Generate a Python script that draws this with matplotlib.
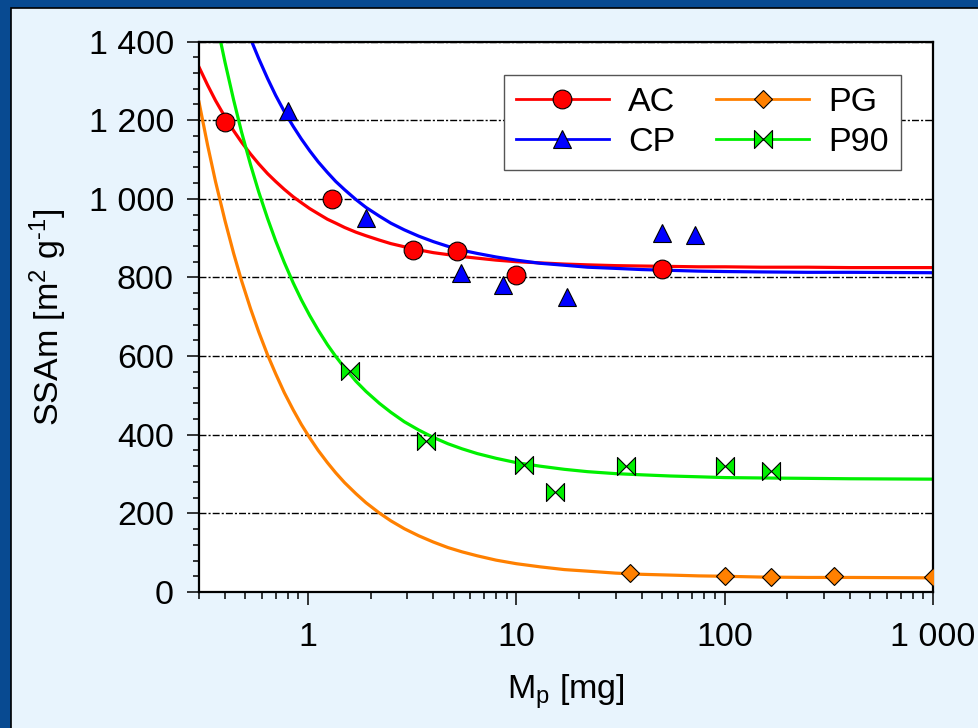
import matplotlib
matplotlib.use("Agg")
import matplotlib.pyplot as plt
from matplotlib.lines import Line2D
from matplotlib.path import Path
from matplotlib.patches import Rectangle
from matplotlib.ticker import MultipleLocator, FuncFormatter, LogLocator

plt.rcParams['font.family'] = ['Liberation Sans', 'DejaVu Sans']
plt.rcParams['mathtext.fontset'] = 'custom'
plt.rcParams['mathtext.rm'] = 'Liberation Sans'
plt.rcParams['mathtext.it'] = 'Liberation Sans:italic'

FS = 24.5

# measured points
ac_x = [0.4, 1.3, 3.2, 5.2, 10, 50]
ac_y = [1195, 1000, 870, 867, 807, 822]
cp_x = [0.8, 1.9, 5.4, 8.6, 17.6, 50, 72]
cp_y = [1223, 950, 810, 782, 751, 912, 907]
pg_x = [35, 100, 167, 334, 1000]
pg_y = [49, 40, 38, 40, 37]
p90_x = [1.6, 3.7, 10.9, 15.3, 33.7, 100, 167]
p90_y = [562, 384, 323, 255, 320, 320, 307]

# fitted curves
ac_fit_x = [0.3, 0.33, 0.36, 0.4, 0.44, 0.48, 0.53, 0.58, 0.64, 0.7, 0.77, 0.85, 0.93, 1.02, 1.12,
            1.24, 1.36, 1.5, 1.7, 1.9, 2.2, 2.5, 2.9, 3.4, 4, 4.7, 5.5, 6.5, 8, 10, 13, 17, 22,
            30, 40, 55, 75, 100, 150, 250, 400, 1000]
ac_fit_y = [1335, 1289, 1250, 1208, 1173, 1144, 1114, 1089, 1064, 1044, 1024, 1005, 990, 975, 962,
            948, 938, 927, 915, 906, 895, 886, 878, 870, 863, 858, 853, 849, 844, 840, 837, 834, 832,
            830, 829, 828, 827, 827, 826, 826, 825, 825]
cp_fit_x = [0.537, 0.58, 0.64, 0.7, 0.77, 0.85, 0.93, 1.02, 1.12, 1.24, 1.36, 1.5, 1.7, 1.9, 2.2,
            2.5, 2.9, 3.4, 4, 4.7, 5.5, 6.5, 8, 10, 13, 17, 22, 30, 40, 55, 75, 100, 150, 250, 400, 1000]
cp_fit_y = [1400, 1357, 1306, 1263, 1222, 1184, 1152, 1122, 1094, 1067, 1044, 1023, 998, 978, 956,
            938, 921, 905, 891, 879, 869, 861, 852, 844, 836, 831, 826, 823, 820, 818, 816, 815, 814,
            813, 813, 812]
p90_fit_x = [0.381, 0.4, 0.44, 0.48, 0.53, 0.58, 0.64, 0.7, 0.77, 0.85, 0.93, 1.02, 1.12, 1.24, 1.36,
             1.5, 1.7, 1.9, 2.2, 2.5, 2.9, 3.4, 4, 4.7, 5.5, 6.5, 8, 10, 13, 17, 22, 30, 40, 55, 75,
             100, 150, 250, 400, 1000]
p90_fit_y = [1400, 1347, 1251, 1170, 1087, 1018, 950, 893, 838, 786, 743, 703, 666, 629, 599,
             570, 536, 510, 480, 457, 433, 412, 393, 377, 364, 352, 340, 329, 320, 312, 306, 301, 298,
             295, 293, 291, 290, 289, 288, 287]
pg_fit_x = [0.3, 0.33, 0.36, 0.4, 0.44, 0.48, 0.53, 0.58, 0.64, 0.7, 0.77, 0.85, 0.93, 1.02, 1.12,
            1.24, 1.36, 1.5, 1.7, 1.9, 2.2, 2.5, 2.9, 3.4, 4, 4.7, 5.5, 6.5, 8, 10, 13, 17, 22,
            30, 40, 55, 75, 100, 150, 250, 400, 1000]
pg_fit_y = [1246, 1136, 1044, 944, 861, 792, 721, 662, 603, 555, 507, 463, 426, 392, 360,
            329, 303, 278, 250, 227, 201, 181, 161, 143, 127, 113, 102, 92, 81, 72, 64, 57, 53,
            48, 45, 43, 41, 40, 38, 37, 37, 36]

# bowtie marker for P90
bowtie = Path([(-1, 1), (0, 0), (-1, -1), (-1, 1), (1, 1), (0, 0), (1, -1), (1, 1)],
              [Path.MOVETO, Path.LINETO, Path.LINETO, Path.CLOSEPOLY,
               Path.MOVETO, Path.LINETO, Path.LINETO, Path.CLOSEPOLY])

series = [
    ("AC", ac_x, ac_y, ac_fit_x, ac_fit_y, '#ff0000', 'o', 13.5),
    ("CP", cp_x, cp_y, cp_fit_x, cp_fit_y, '#0000ff', '^', 12.5),
    ("PG", pg_x, pg_y, pg_fit_x, pg_fit_y, '#ff8000', 'D', 9.5),
    ("P90", p90_x, p90_y, p90_fit_x, p90_fit_y, '#00f000', bowtie, 13),
]

fig = plt.figure(figsize=(9.79, 7.28), dpi=100)
fig.patch.set_facecolor('#084a91')
panel = Rectangle((11 / 979, -0.05), 1.1, (728 - 8) / 728 + 0.05, transform=fig.transFigure,
                  facecolor='#e8f4fd', edgecolor='black', lw=1.2, zorder=-5)
fig.patches.append(panel)

ax = fig.add_axes([199 / 979, (728 - 592) / 728, (933 - 199) / 979, (592 - 41.5) / 728])
ax.set_facecolor('white')

handles = []
for name, x, y, fx, fy, col, mk, ms in series:
    ax.plot(fx, fy, color=col, lw=2.3, zorder=2, solid_joinstyle='round')
    ax.plot(x, y, linestyle='none', marker=mk, markersize=ms, markerfacecolor=col,
            markeredgecolor='black', markeredgewidth=0.8, zorder=3)
    handles.append(Line2D([], [], color=col, lw=2, marker=mk, markersize=ms,
                          markerfacecolor=col, markeredgecolor='black', markeredgewidth=0.8))

ax.set_xscale('log')
ax.set_xlim(0.3, 1000)
ax.set_ylim(0, 1400)

ax.yaxis.set_major_locator(MultipleLocator(200))
ax.yaxis.set_minor_locator(MultipleLocator(40))
ax.xaxis.set_major_locator(LogLocator(base=10, numticks=10))
ax.xaxis.set_minor_locator(LogLocator(base=10, subs=range(2, 10), numticks=20))

sep = lambda v, pos: f"{v:,.0f}".replace(',', ' ')
ax.yaxis.set_major_formatter(FuncFormatter(sep))
ax.xaxis.set_major_formatter(FuncFormatter(sep))

ax.tick_params(axis='both', which='major', direction='out', width=1.1, labelsize=FS)
ax.tick_params(axis='y', which='major', length=9, pad=9)
ax.tick_params(axis='y', which='minor', direction='out', length=4.5, width=1.1)
ax.tick_params(axis='x', which='major', length=9.5, pad=12)
ax.tick_params(axis='x', which='minor', direction='out', length=5, width=1.1)

ax.yaxis.grid(True, which='major', color='black', lw=1.0, linestyle=(0, (5, 1.5, 1.5, 1.5)))
ax.set_axisbelow(True)

for s in ax.spines.values():
    s.set_linewidth(1.6)
    s.set_color('black')

ax.set_xlabel(r'M$_{\mathregular{p}}$ [mg]', fontsize=FS, labelpad=14)
ax.set_ylabel(r'SSAm [m$^{\mathregular{2}}$ g$^{\text{-1}}$]', fontsize=FS, labelpad=14)

ax.legend(handles, ["AC", "CP", "PG", "P90"], ncol=2, loc='upper right',
          bbox_to_anchor=(0.956, 0.939), borderaxespad=0, fontsize=FS, numpoints=1,
          handlelength=2.75, handletextpad=0.55, columnspacing=1.2,
          labelspacing=0.27, borderpad=0.35, frameon=True, fancybox=False,
          edgecolor='#555555', framealpha=1)

fig.savefig("out.png", dpi=100, facecolor=fig.get_facecolor())
